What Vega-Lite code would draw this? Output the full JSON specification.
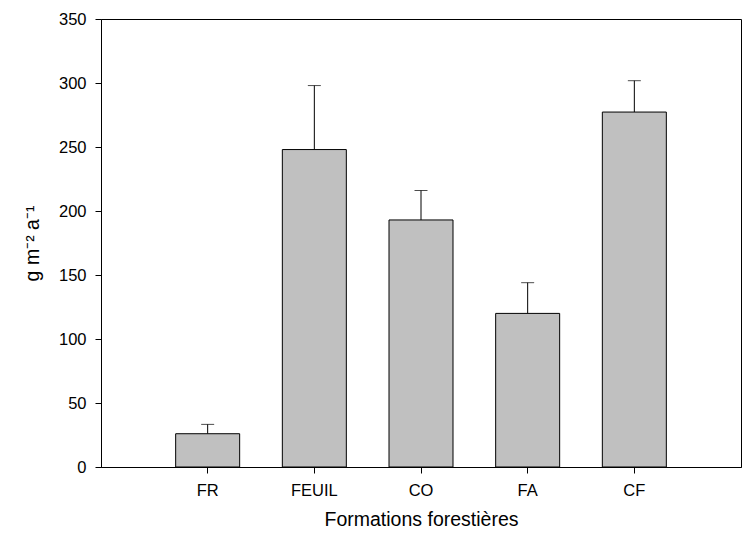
{
  "$schema": "https://vega.github.io/schema/vega-lite/v6.json",
  "autosize": "none",
  "width": 640,
  "height": 448,
  "padding": {"left": 101, "top": 19, "right": 4, "bottom": 73},
  "background": "white",
  "config": {
    "view": {"stroke": "black", "strokeWidth": 1},
    "font": "Liberation Sans",
    "axis": {
      "domainColor": "black",
      "tickColor": "black",
      "labelColor": "black",
      "titleColor": "black",
      "labelFont": "Liberation Sans",
      "titleFont": "Liberation Sans",
      "labelFontSize": 16.5,
      "titleFontSize": 19.5,
      "titleFontWeight": "normal",
      "grid": false,
      "tickSize": 6
    }
  },
  "data": {
    "values": [
      {"cat": "FR", "value": 26, "upper": 33.3},
      {"cat": "FEUIL", "value": 248, "upper": 298},
      {"cat": "CO", "value": 193, "upper": 216},
      {"cat": "FA", "value": 120, "upper": 144},
      {"cat": "CF", "value": 277.3, "upper": 301.8}
    ]
  },
  "encoding": {
    "x": {
      "field": "cat",
      "type": "nominal",
      "sort": null,
      "scale": {"paddingInner": 0.4, "paddingOuter": 0.7},
      "axis": {
        "title": "Formations forestières",
        "labelAngle": 0,
        "labelPadding": 9,
        "titlePadding": 12
      }
    }
  },
  "layer": [
    {
      "mark": {"type": "rule", "color": "black", "strokeWidth": 1},
      "encoding": {
        "y": {"field": "value", "type": "quantitative"},
        "y2": {"field": "upper"}
      }
    },
    {
      "mark": {"type": "bar", "color": "#c0c0c0", "stroke": "black", "strokeWidth": 1},
      "encoding": {
        "y": {
          "field": "value",
          "type": "quantitative",
          "scale": {"domain": [0, 350], "nice": false},
          "axis": {
            "title": "g m⁻² a⁻¹",
            "values": [0, 50, 100, 150, 200, 250, 300, 350],
            "labelPadding": 9,
            "titlePadding": 16
          }
        }
      }
    },
    {
      "mark": {"type": "tick", "color": "black", "size": 13, "thickness": 1},
      "encoding": {
        "y": {"field": "upper", "type": "quantitative"}
      }
    }
  ]
}
